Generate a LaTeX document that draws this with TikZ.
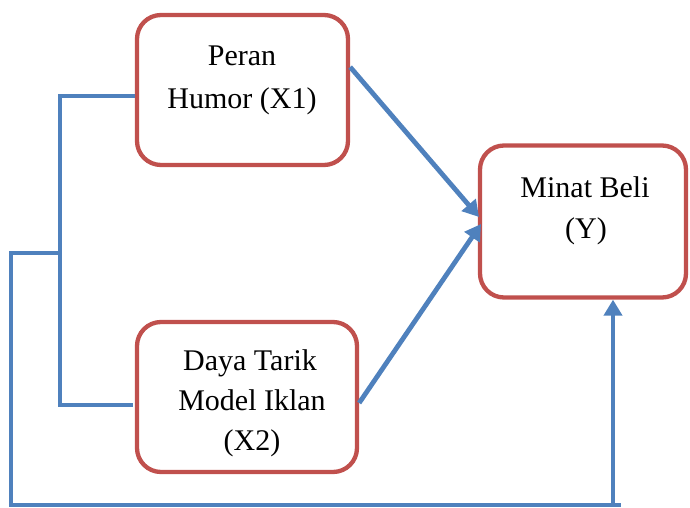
\documentclass[tikz,border=0pt]{standalone}
\usepackage{fontspec}
\setmainfont{Liberation Serif}
\usetikzlibrary{arrows.meta,calc}
\definecolor{boxred}{HTML}{C0504D}
\definecolor{lineblue}{HTML}{4F81BD}
\begin{document}
\begin{tikzpicture}[x=1pt,y=-1pt,
  box/.style={draw=boxred,line width=4.3pt,rounded corners=24pt,fill=white,inner sep=0pt},
  conn/.style={draw=lineblue,line width=4.8pt},
  tipped/.style={-{Triangle[length=16pt,width=18pt]}},
  lbl/.style={font=\fontsize{30}{40}\selectfont,anchor=base,inner sep=0pt}]
\useasboundingbox (0,0) rectangle (690,508);
% boxes
\node[box,minimum width=211pt,minimum height=150pt] (x1) at (242.5,90) {};
\node[box,minimum width=220pt,minimum height=150pt] (x2) at (247,397) {};
\node[box,minimum width=206pt,minimum height=152pt] (y) at (583,221.5) {};
% labels
\node[lbl] (t1a) at (242,66) {Peran};
\node[lbl] (t1b) at (242,109) {Humor (X1)};
\node[lbl] (t2a) at (250,370) {Daya Tarik};
\node[lbl] (t2b) at (252,410) {Model Iklan};
\node[lbl] (t2c) at (252,450) {(X2)};
\node[lbl] (t3a) at (585,197) {Minat Beli};
\node[lbl] (t3b) at (586,238) {(Y)};
% coordinates
\coordinate (b1) at (x1.west |- 0,96);
\coordinate (b2) at (133,405);
\coordinate (bt) at (60,96);
\coordinate (bb) at (60,405);
\coordinate (bm) at (60,253);
\coordinate (lm) at (11,253);
\coordinate (lb) at (11,505);
\coordinate (re) at (621,505);
\coordinate (rb) at (613,505);
\coordinate (s1) at (x1.east |- 0,67);
\coordinate (s2) at (x2.east |- 0,403);
\coordinate (e1) at (479,217);
\coordinate (e2) at (481,224);
% connectors
\draw[conn] (b1) -- (bt) -- (bb) -- (b2);
\draw[conn] (bm) -- (lm) -- (lb) -- (re);
\draw[conn,tipped] (rb) -- (rb |- y.south);
\draw[conn,tipped] (s1) -- (e1);
\draw[conn,tipped] (s2) -- (e2);
\end{tikzpicture}
\end{document}
